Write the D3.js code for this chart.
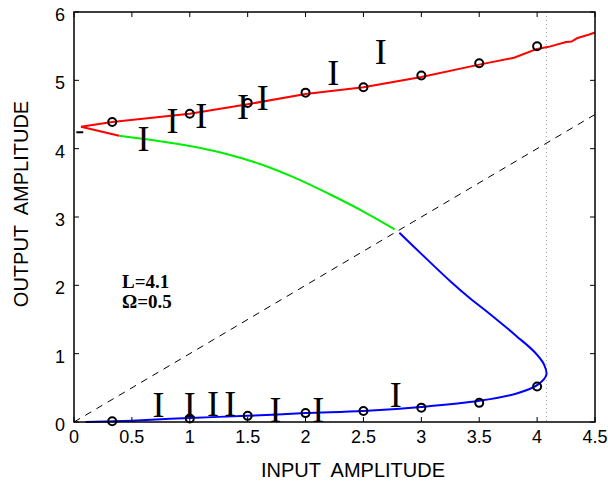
<!DOCTYPE html>
<html>
<head>
<meta charset="utf-8">
<script src="https://cdn.jsdelivr.net/npm/d3@7"></script>
<style>
  body { margin: 0; background: #fff; }
  svg { display: block; }
</style>
</head>
<body>
<div id="chart"></div>
<script>
// upper stable branch (red)
const redUpper = [[0.06,4.32],[0.33,4.39],[1,4.51],[1.5,4.65],[2,4.8],[2.5,4.9],[3,5.05],[3.5,5.23],[3.8,5.33],[4,5.46],[4.1,5.49],[4.25,5.56],[4.3,5.57],[4.35,5.62],[4.45,5.67],[4.5,5.70]];
const redLower = [[0.06,4.32],[0.39,4.19]];
// unstable branch (green)
const greenBranch = [[0.39,4.19],[0.7,4.12],[1.0,4.04],[1.3,3.93],[1.6,3.78],[1.9,3.58],[2.2,3.34],[2.5,3.08],[2.77,2.82]];
// lower branch (blue)
const blueBranch = [[2.81,2.77],[3.0,2.46],[3.25,2.06],[3.42,1.81],[3.6,1.57],[3.82,1.26],[3.98,1.02],[4.06,0.84],[4.08,0.69],[4.01,0.55],[3.83,0.42],[3.5,0.31],[3.0,0.22],[2.5,0.16],[2.0,0.13],[1.5,0.09],[1.0,0.06],[0.5,0.02],[0.1,0.0]];
// measured points
const circleX = [0.33, 1, 1.5, 2, 2.5, 3, 3.5, 4];
const circleUpper = [4.39, 4.51, 4.67, 4.82, 4.90, 5.07, 5.25, 5.50];
const circleLower = [0.01, 0.05, 0.09, 0.13, 0.16, 0.21, 0.28, 0.52];
// "I" markers
const markX = [0.60, 0.85, 1.10, 1.46, 1.63, 2.24, 2.65, 0.73, 1.00, 1.20, 1.35, 1.74, 2.11, 2.78];
const markY = [4.14, 4.41, 4.48, 4.61, 4.74, 5.11, 5.42, 0.25, 0.25, 0.26, 0.26, 0.18, 0.18, 0.40];
const startMark = [[0.02,4.24],[0.08,4.24]];
const vLineX = 4.08;
const xTicks = [0, 0.5, 1, 1.5, 2, 2.5, 3, 3.5, 4, 4.5];
const yTicks = [0, 1, 2, 3, 4, 5, 6];

const W = 608, H = 481;
const margin = {top: 12, right: 13, bottom: 59, left: 74};
const width = W - margin.left - margin.right;
const height = H - margin.top - margin.bottom;

const svg = d3.select('#chart').append('svg')
  .attr('width', W).attr('height', H);
const g = svg.append('g')
  .attr('transform', `translate(${margin.left},${margin.top})`);

const x = d3.scaleLinear().domain([0, 4.5]).range([0, width]);
const y = d3.scaleLinear().domain([0, 6]).range([height, 0]);

const line = d3.line().x(d => x(d[0])).y(d => y(d[1]));
const smooth = d3.line().x(d => x(d[0])).y(d => y(d[1])).curve(d3.curveCatmullRom.alpha(0.5));

// diagonal y = x
g.append('path')
  .attr('d', line([[0,0],[4.5,4.5]]))
  .attr('fill', 'none').attr('stroke', '#000').attr('stroke-width', 1)
  .attr('stroke-dasharray', '7,6');

// dotted vertical
g.append('line')
  .attr('x1', x(vLineX)).attr('x2', x(vLineX))
  .attr('y1', 0).attr('y2', height)
  .attr('stroke', '#999').attr('stroke-width', 1)
  .attr('stroke-dasharray', '1,3');

const branches = [
  {data: redUpper, color: '#ff0000', gen: line},
  {data: redLower, color: '#ff0000', gen: line},
  {data: greenBranch, color: '#00ee00', gen: smooth},
  {data: blueBranch, color: '#0000ff', gen: smooth}
];
branches.forEach(b => {
  g.append('path')
    .attr('d', b.gen(b.data))
    .attr('fill', 'none').attr('stroke', b.color)
    .attr('stroke-width', 2).attr('stroke-linejoin', 'round');
});

g.append('path')
  .attr('d', line(startMark))
  .attr('stroke', '#000').attr('stroke-width', 2);

// circles
const pts = circleX.map((v, i) => [v, circleUpper[i]])
  .concat(circleX.map((v, i) => [v, circleLower[i]]));
g.append('g').selectAll('circle')
  .data(pts).enter().append('circle')
  .attr('cx', d => x(d[0])).attr('cy', d => y(d[1]))
  .attr('r', 4).attr('fill', 'none')
  .attr('stroke', '#000').attr('stroke-width', 2);

// I markers
g.append('g').selectAll('text')
  .data(markX.map((v, i) => [v, markY[i]])).enter().append('text')
  .attr('x', d => x(d[0])).attr('y', d => y(d[1]))
  .attr('dy', '0.33em')
  .attr('text-anchor', 'middle')
  .style('font-family', '"Liberation Serif", "Times New Roman", serif')
  .style('font-size', '36px')
  .text('I');

// frame
g.append('rect')
  .attr('width', width).attr('height', height)
  .attr('fill', 'none').attr('stroke', '#000').attr('stroke-width', 1.5);

// ticks inward on all sides
const tickLen = 5;
const axisG = g.append('g').attr('stroke', '#000').attr('stroke-width', 1);
xTicks.forEach(t => {
  axisG.append('line').attr('x1', x(t)).attr('x2', x(t)).attr('y1', height).attr('y2', height - tickLen);
  axisG.append('line').attr('x1', x(t)).attr('x2', x(t)).attr('y1', 0).attr('y2', tickLen);
});
yTicks.forEach(t => {
  axisG.append('line').attr('x1', 0).attr('x2', tickLen).attr('y1', y(t)).attr('y2', y(t));
  axisG.append('line').attr('x1', width).attr('x2', width - tickLen).attr('y1', y(t)).attr('y2', y(t));
});

const sans = '"Liberation Sans", Arial, Helvetica, sans-serif';
g.append('g').selectAll('text')
  .data(xTicks).enter().append('text')
  .attr('x', d => x(d)).attr('y', height + 21)
  .attr('text-anchor', 'middle')
  .style('font-family', sans).style('font-size', '18px')
  .text(d => d);
g.append('g').selectAll('text')
  .data(yTicks).enter().append('text')
  .attr('x', -9).attr('y', d => y(d) + 9)
  .attr('text-anchor', 'end')
  .style('font-family', sans).style('font-size', '18px')
  .text(d => d);

// axis titles
svg.append('text')
  .attr('x', 353).attr('y', 477)
  .attr('text-anchor', 'middle')
  .style('font-family', sans).style('font-size', '20px')
  .style('white-space', 'pre')
  .text('INPUT  AMPLITUDE');
svg.append('text')
  .attr('transform', 'translate(28,204) rotate(-90)')
  .attr('text-anchor', 'middle')
  .style('font-family', sans).style('font-size', '20px')
  .style('white-space', 'pre')
  .text('OUTPUT  AMPLITUDE');

// parameters
const serif = '"Liberation Serif", "Times New Roman", serif';
svg.append('text').attr('x', 122).attr('y', 288)
  .style('font-family', serif).style('font-size', '19px').style('font-weight', 'bold')
  .text('L=4.1');
svg.append('text').attr('x', 122).attr('y', 308)
  .style('font-family', serif).style('font-size', '19px').style('font-weight', 'bold')
  .text('Ω=0.5');
</script>
</body>
</html>
